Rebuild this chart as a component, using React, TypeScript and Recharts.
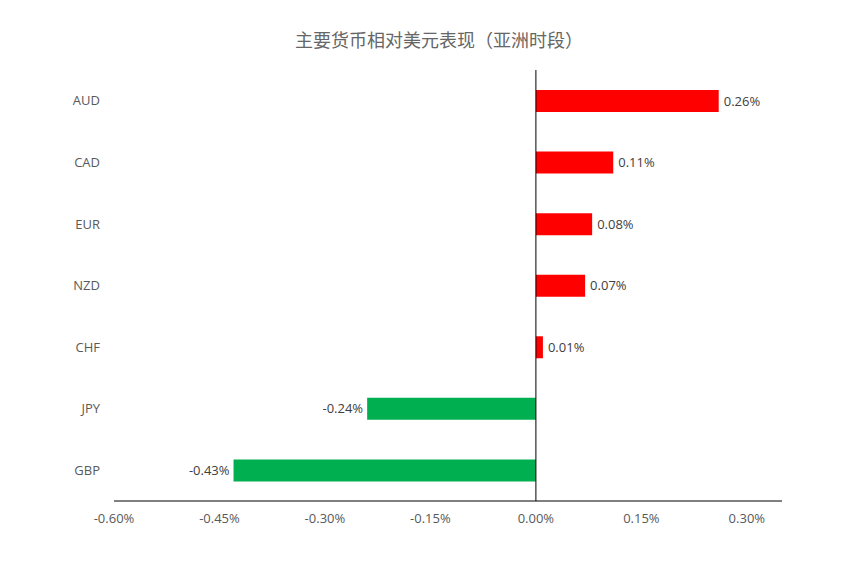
import React from 'react';
import { BarChart, Bar, XAxis, YAxis, Cell, ReferenceLine, LabelList } from 'recharts';

const categories = ['AUD', 'CAD', 'EUR', 'NZD', 'CHF', 'JPY', 'GBP'];
const values = [0.26, 0.11, 0.08, 0.07, 0.01, -0.24, -0.43];
const xTicks = [-0.6, -0.45, -0.3, -0.15, 0, 0.15, 0.3];
const title = '主要货币相对美元表现（亚洲时段）';

const POS = '#FF0000';
const NEG = '#00B050';

const data = categories.map((name, i) => ({ name, value: values[i] }));

const fmt = (v: number) => `${v.toFixed(2)}%`;

const ValueLabel = (props: any) => {
  const { x, y, width, height, value } = props;
  const left = Math.min(x, x + width);
  const right = Math.max(x, x + width);
  const cy = y + height / 2;
  const pos = value >= 0;
  return (
    <text
      x={pos ? right + 5 : left - 4}
      y={cy}
      dy="0.35em"
      textAnchor={pos ? 'start' : 'end'}
      fontSize={13}
      fontFamily="'Open Sans', sans-serif"
      fill="#404040"
    >
      {fmt(value)}
    </text>
  );
};

export default function App() {
  return (
    <div style={{ position: 'absolute', left: 0, top: 0, width: 854, height: 566, background: '#fff' }}>
      <div
        style={{
          position: 'absolute',
          left: 0,
          top: 27,
          width: 878,
          textAlign: 'center',
          fontFamily: "'Noto Sans CJK SC', sans-serif",
          fontSize: 18,
          color: '#666666',
          lineHeight: '24px',
        }}
      >
        {title}
      </div>
      <BarChart
        width={854}
        height={566}
        data={data}
        layout="vertical"
        margin={{ top: 70, right: 72, bottom: 35, left: 0 }}
        barCategoryGap={0}
      >
        <XAxis
          type="number"
          domain={[-0.6, 0.35]}
          ticks={xTicks}
          tickFormatter={fmt}
          axisLine={{ stroke: '#000', strokeWidth: 1 }}
          tickLine={false}
          tickSize={0}
          tickMargin={13}
          height={30}
          interval={0}
          allowDataOverflow
          tick={{ fontSize: 13, fill: '#595959', fontFamily: "'Open Sans', sans-serif" }}
        />
        <YAxis
          type="category"
          dataKey="name"
          width={114}
          axisLine={false}
          tickLine={false}
          tickSize={0}
          tickMargin={14}
          interval={0}
          tick={{ fontSize: 13, fill: '#595959', fontFamily: "'Open Sans', sans-serif" }}
        />
        <Bar dataKey="value" barSize={22} isAnimationActive={false}>
          {data.map((d, i) => (
            <Cell key={i} fill={d.value >= 0 ? POS : NEG} />
          ))}
          <LabelList dataKey="value" content={ValueLabel} />
        </Bar>
        <ReferenceLine x={0} stroke="#000" strokeWidth={1} />
      </BarChart>
    </div>
  );
}
